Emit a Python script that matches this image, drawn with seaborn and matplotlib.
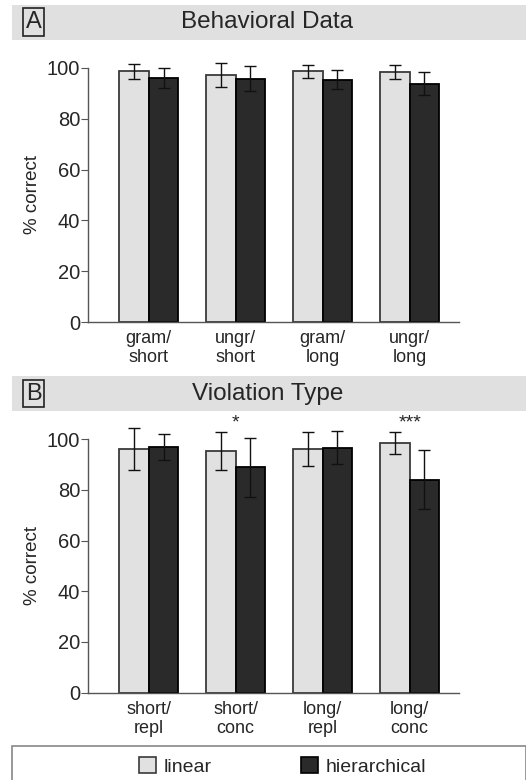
import numpy as np
import pandas as pd
import seaborn as sns
import matplotlib.pyplot as plt
from matplotlib.patches import Rectangle, Patch

# values
cats_a = ["gram/\nshort", "ungr/\nshort", "gram/\nlong", "ungr/\nlong"]
lin_a = [98.7, 97.2, 98.7, 98.4]
hier_a = [96.0, 95.7, 95.4, 93.8]
lin_a_err = [3.0, 4.7, 2.5, 2.6]
hier_a_err = [4.0, 4.9, 3.9, 4.6]

cats_b = ["short/\nrepl", "short/\nconc", "long/\nrepl", "long/\nconc"]
lin_b = [96.1, 95.4, 96.1, 98.4]
hier_b = [96.9, 88.9, 96.7, 84.0]
lin_b_err = [8.4, 7.6, 6.6, 4.4]
hier_b_err = [5.0, 11.7, 6.5, 11.7]

stars_b = ["", "*", "", "***"]
groups = ["linear", "hierarchical"]

sns.set_style("white")
plt.rcParams["font.family"] = ["Liberation Sans", "DejaVu Sans"]

colors = {"linear": "#e1e1e1", "hierarchical": "#2a2a2a"}
edges = {"linear": "#3a3a3a", "hierarchical": "#000000"}

fig = plt.figure(figsize=(5.26, 7.8), dpi=100)


def panel(rect, cats, lin, hier, lin_err, hier_err, stars=None):
    ax = fig.add_axes(rect)
    df = pd.DataFrame({
        "cat": cats * 2,
        "val": lin + hier,
        "err": lin_err + hier_err,
        "grp": [groups[0]] * 4 + [groups[1]] * 4,
    })
    sns.barplot(data=df, x="cat", y="val", hue="grp", hue_order=groups,
                order=cats, palette=colors, width=0.68, errorbar=None,
                legend=False, ax=ax)
    # patches come out in hue order, then category order
    for i, p in enumerate(ax.patches[:8]):
        g = groups[i // 4]
        p.set_edgecolor(edges[g])
        p.set_linewidth(1.3)
        xc = p.get_x() + p.get_width() / 2
        e = df["err"].iloc[i]
        ax.errorbar(xc, p.get_height(), yerr=e, color="#111111", lw=1,
                    capsize=4, capthick=1, clip_on=False)
    if stars:
        for j, s in enumerate(stars):
            if s:
                top = max(lin[j] + lin_err[j], hier[j] + hier_err[j])
                ax.text(j, top + 3.5, s, ha="center", va="center", fontsize=14)
    ax.set_ylim(0, 100)
    ax.set_xlim(-0.70, 3.57)
    ax.set_yticks([0, 20, 40, 60, 80, 100])
    ax.set_xticks(range(4))
    ax.set_xticklabels(cats, fontsize=13, linespacing=1.15)
    ax.set_xticks([0.5, 1.5, 2.5], minor=True)
    ax.tick_params(axis="x", which="major", length=0, pad=6)
    ax.tick_params(axis="x", which="minor", length=4, width=0.8,
                   direction="inout", color="#555555")
    ax.tick_params(axis="y", length=5, width=0.8, labelsize=14.5, pad=0.5,
                   color="#555555", left=True)
    ax.set_xlabel("")
    ax.set_ylabel("% correct", fontsize=13.5, labelpad=4)
    for s in ["top", "right"]:
        ax.spines[s].set_visible(False)
    for s in ["left", "bottom"]:
        ax.spines[s].set_color("#555555")
        ax.spines[s].set_linewidth(1)
    return ax


panel([0.167, 0.587, 0.706, 0.326], cats_a, lin_a, hier_a, lin_a_err, hier_a_err)
panel([0.167, 0.112, 0.706, 0.325], cats_b, lin_b, hier_b, lin_b_err, hier_b_err,
      stars_b)


def header(y0, h, letter, title):
    fig.patches.append(Rectangle((0.023, y0), 0.977, h, transform=fig.transFigure,
                                 facecolor="#e0e0e0", edgecolor="none", zorder=0))
    fig.text(0.064, y0 + h / 2, letter, ha="center", va="center", fontsize=17,
             bbox=dict(boxstyle="square,pad=0.12", facecolor="none",
                       edgecolor="#222222", lw=1.2))
    fig.text(0.508, y0 + h / 2, title, ha="center", va="center", fontsize=17.5)


header(0.949, 0.045, "A", "Behavioral Data")
header(0.473, 0.045, "B", "Violation Type")

# legend box at the bottom
fig.patches.append(Rectangle((0.023, -0.01), 0.977, 0.053, transform=fig.transFigure,
                             facecolor="white", edgecolor="#888888", lw=1.2))
handles = [Patch(facecolor=colors[g], edgecolor=edges[g], lw=1.2, label=g)
           for g in groups]
fig.legend(handles=handles, loc="center", bbox_to_anchor=(0.537, 0.017), ncol=2,
           frameon=False, fontsize=14, handlelength=0.85, handleheight=0.85,
           handletextpad=0.4, columnspacing=4.6)

fig.savefig("out.png", dpi=100)
